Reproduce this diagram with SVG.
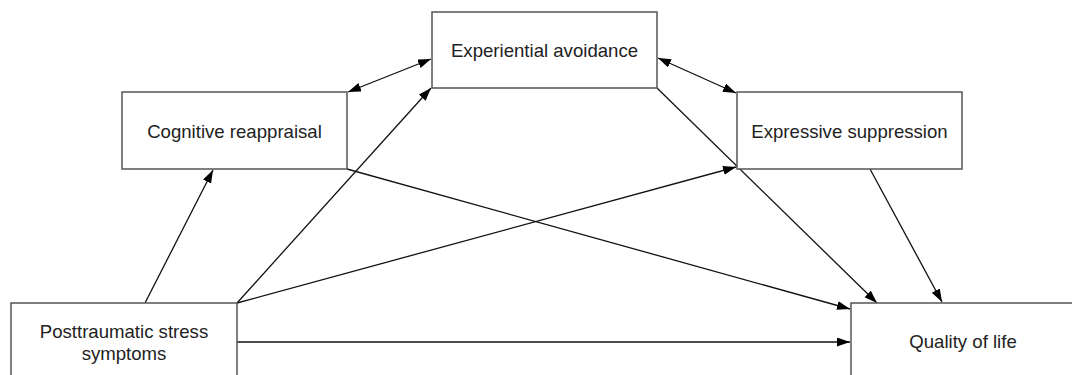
<svg xmlns="http://www.w3.org/2000/svg" width="1072" height="375" viewBox="0 0 1072 375">
<style>
.box{fill:#fff;stroke:#555;stroke-width:1.5}
.lbl{font-family:"Liberation Sans",Arial,sans-serif;font-size:18.6px;fill:#222;text-anchor:middle}
.edge{stroke:#111;stroke-width:1.3;fill:none;marker-end:url(#ah)}
.dbl{marker-start:url(#ah)}
</style>
<defs>
<marker id="ah" markerUnits="userSpaceOnUse" markerWidth="14" markerHeight="10" refX="13" refY="4.5" orient="auto-start-reverse">
<path d="M0,0 L13,4.5 L0,9 z" fill="#000"/>
</marker>
</defs>
<rect width="1072" height="375" fill="#fff"/>
<g id="connectors">
<line class="edge dbl" x1="348" y1="92" x2="431" y2="59"/>
<line class="edge dbl" x1="658" y1="58" x2="736" y2="93"/>
<line class="edge" x1="145" y1="303" x2="213" y2="170"/>
<line class="edge" x1="237" y1="303" x2="431" y2="88"/>
<line class="edge" x1="237" y1="303" x2="736" y2="167"/>
<line class="edge" x1="237" y1="342" x2="850" y2="342"/>
<line class="edge" x1="347" y1="169" x2="850" y2="309"/>
<line class="edge" x1="657" y1="88" x2="877" y2="303"/>
<line class="edge" x1="870" y1="169" x2="942" y2="302"/>
</g>
<g id="experiential-avoidance">
<rect class="box" x="432" y="12" width="225" height="76"/>
<text class="lbl" x="544.5" y="57">Experiential avoidance</text>
</g>
<g id="cognitive-reappraisal">
<rect class="box" x="122" y="92" width="225" height="77"/>
<text class="lbl" x="234.5" y="138">Cognitive reappraisal</text>
</g>
<g id="expressive-suppression">
<rect class="box" x="737" y="92" width="225" height="77"/>
<text class="lbl" x="849.5" y="138">Expressive suppression</text>
</g>
<g id="posttraumatic-stress-symptoms">
<rect class="box" x="11" y="303" width="226" height="80"/>
<text class="lbl" x="124" y="338">Posttraumatic stress</text>
<text class="lbl" x="124" y="360">symptoms</text>
</g>
<g id="quality-of-life">
<rect class="box" x="851" y="303" width="226" height="80"/>
<text class="lbl" x="963" y="348">Quality of life</text>
</g>
</svg>
